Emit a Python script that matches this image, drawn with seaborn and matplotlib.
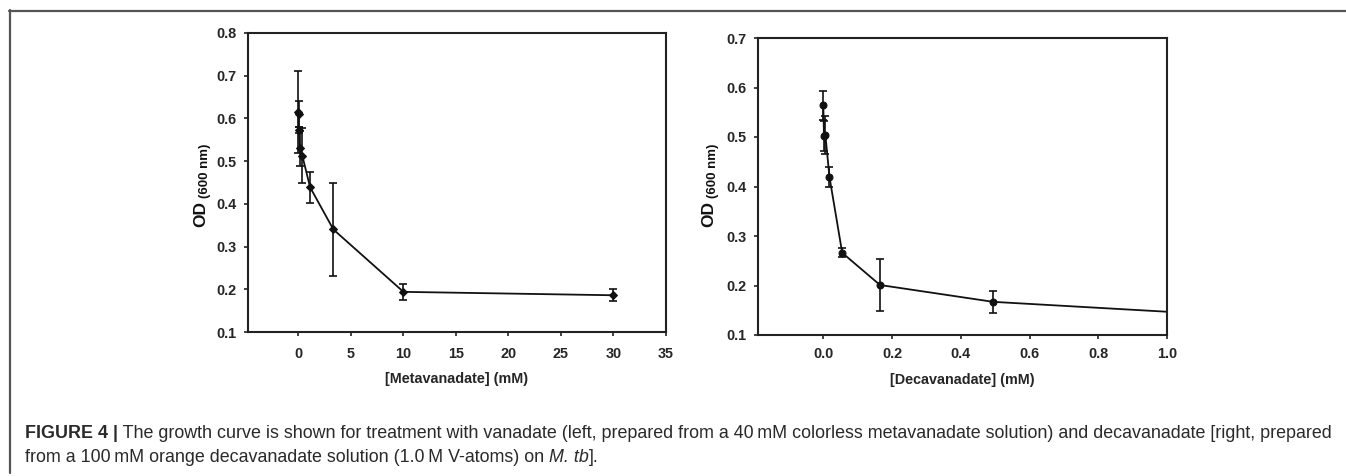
import numpy as np
import pandas as pd
import matplotlib
matplotlib.use("Agg")
import matplotlib.pyplot as plt
from matplotlib.lines import Line2D
import seaborn as sns

# ---------------- data ----------------
meta_conc = [0.0, 0.014, 0.041, 0.123, 0.37, 1.11, 3.33, 10.0, 30.0]
meta_od = [0.615, 0.610, 0.573, 0.530, 0.513, 0.439, 0.340, 0.194, 0.186]
meta_err = [0.095, 0.030, 0.006, 0.041, 0.065, 0.036, 0.109, 0.018, 0.014]

deca_conc = [0.0, 0.002, 0.006, 0.018, 0.055, 0.165, 0.494, 1.48]
deca_od = [0.564, 0.502, 0.504, 0.419, 0.266, 0.201, 0.167, 0.128]
deca_err = [0.029, 0.030, 0.039, 0.020, 0.009, 0.053, 0.022, 0.010]

left_xticks = [0, 5, 10, 15, 20, 25, 30, 35]
left_yticks = [0.1, 0.2, 0.3, 0.4, 0.5, 0.6, 0.7, 0.8]
right_xticks = [0.0, 0.2, 0.4, 0.6, 0.8, 1.0]
right_yticks = [0.1, 0.2, 0.3, 0.4, 0.5, 0.6, 0.7]

ylabel_main = "OD"
ylabel_sub = "(600 nm)"

caption_bold = "FIGURE 4 |"
caption_line1 = (" The growth curve is shown for treatment with vanadate (left, prepared from a 40\u2009mM "
                 "colorless metavanadate solution) and decavanadate [right, prepared")
caption_line2a = "from a 100\u2009mM orange decavanadate solution (1.0\u2009M V-atoms) on "
caption_italic = "M. tb"
caption_line2b = "]."

# ---------------- style ----------------
sns.set_style("white")
plt.rcParams["font.family"] = ["Liberation Sans", "DejaVu Sans"]

W, H = 1346, 476
fig = plt.figure(figsize=(W / 100, H / 100), dpi=100)
fig.patch.set_facecolor("white")

ax1 = fig.add_axes([248 / W, 1 - 332 / H, 418 / W, 299 / H])
ax2 = fig.add_axes([758 / W, 1 - 335 / H, 409 / W, 297 / H])

ink = "#111111"
TICK_FS = 10.4


def panel(ax, x, y, e, marker, ms, xlim, ylim, xticks, yticks, xlabel, fmt, xpad, lpad):
    df = pd.DataFrame({"x": x, "y": y})
    sns.lineplot(data=df, x="x", y="y", ax=ax, color=ink, linewidth=1.3,
                 marker=marker, markersize=ms, markeredgecolor=ink,
                 markerfacecolor=ink, estimator=None, sort=True)
    ax.errorbar(x, y, yerr=e, fmt="none", ecolor=ink, elinewidth=1.2,
                capsize=3.2, capthick=1.2)
    ax.set_xlim(*xlim)
    ax.set_ylim(*ylim)
    ax.set_xticks(xticks)
    ax.set_yticks(yticks)
    ax.set_xticklabels([fmt.format(v) for v in xticks], fontsize=TICK_FS, fontweight="bold")
    ax.set_yticklabels(["{:.1f}".format(v) for v in yticks], fontsize=TICK_FS, fontweight="bold")
    ax.tick_params(axis="both", direction="out", length=3, width=1.2, color="#222222",
                   left=True, bottom=True, pad=5)
    ax.tick_params(axis="x", pad=xpad)
    for s in ax.spines.values():
        s.set_visible(True)
        s.set_color("#222222")
        s.set_linewidth(1.5)
    ax.set_xlabel(xlabel, fontsize=TICK_FS, fontweight="bold", labelpad=lpad)
    ax.set_ylabel("")


panel(ax1, meta_conc, meta_od, meta_err, "D", 4.3, (-4.8, 35), (0.1, 0.8),
      left_xticks, left_yticks, "[Metavanadate] (mM)", "{:d}", 7.5, 8)
panel(ax2, deca_conc, deca_od, deca_err, "o", 5.0, (-0.19, 1.0), (0.1, 0.7),
      right_xticks, right_yticks, "[Decavanadate] (mM)", "{:.1f}", 6, 8)

# ---------------- frame ----------------
frame_c = "#555555"
fig.add_artist(Line2D([9 / W, 1.0], [1 - 10.5 / H, 1 - 10.5 / H], color=frame_c, linewidth=1.6,
                      transform=fig.transFigure))
fig.add_artist(Line2D([9.5 / W, 9.5 / W], [1 - 10 / H, 1 - 473 / H], color=frame_c, linewidth=1.6,
                      transform=fig.transFigure))

fig.canvas.draw()
renderer = fig.canvas.get_renderer()

# ---------------- y labels (OD with subscript-like suffix) ----------------
def ylab(base_x, start_y):
    t = fig.text(base_x / W, 1 - start_y / H, ylabel_main, rotation=90, rotation_mode="anchor",
                 ha="left", va="baseline", fontsize=12.5, fontweight="bold", color=ink)
    bb = t.get_window_extent(renderer=renderer)
    y2 = start_y - bb.height - 3
    fig.text((base_x + 3) / W, 1 - y2 / H, ylabel_sub, rotation=90, rotation_mode="anchor",
             ha="left", va="baseline", fontsize=9.5, fontweight="bold", color=ink)


ylab(205, 227)
ylab(713, 227)

# ---------------- caption ----------------
CAP_FS = 12.88
cap_col = "#2a2a2a"


def put(xpx, ypx, s, **kw):
    t = fig.text(xpx / W, 1 - ypx / H, s, fontsize=CAP_FS, color=cap_col,
                 va="baseline", ha="left", **kw)
    bb = t.get_window_extent(renderer=renderer)
    return xpx + bb.width


x = put(25, 437.7, caption_bold, fontweight="bold")
put(x, 437.7, caption_line1)
x = put(25, 461.7, caption_line2a)
x = put(x, 461.7, caption_italic, fontstyle="italic")
put(x, 461.7, caption_line2b)

fig.savefig("out.png", dpi=100, facecolor="white")
